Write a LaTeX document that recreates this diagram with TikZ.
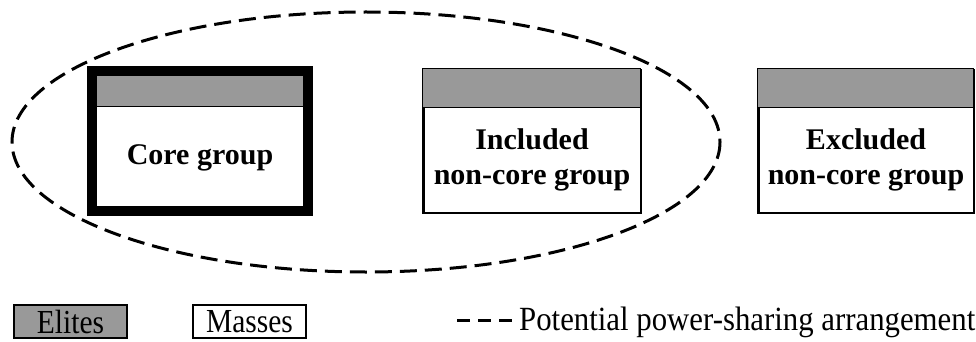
\documentclass[tikz,border=0pt]{standalone}
\usepackage{fontspec}
\usepackage{graphicx}
\setmainfont{Liberation Serif}
\definecolor{elitegray}{RGB}{153,153,153}
\tikzset{
  grp/.style={draw=black, fill=white, rectangle, inner sep=0pt},
  band/.style={draw=black, line width=1pt, fill=elitegray},
  grptext/.style={font=\fontsize{30}{35}\selectfont\bfseries, align=center, inner sep=0pt},
  legbox/.style={draw=black, line width=2.5pt, rectangle, inner sep=0pt, minimum width=113pt, minimum height=33pt},
  legtext/.style={font=\fontsize{30.8}{34}\selectfont, inner sep=0pt},
  share/.style={draw=black, line width=3pt, dash pattern=on 17pt off 8pt},
}
\begin{document}
\begin{tikzpicture}[x=1pt, y=-1pt]
\useasboundingbox (0,0) rectangle (976,342);
% potential power-sharing arrangement
\draw[share] (366,142) ellipse [x radius=354, y radius=130];
% core group
\node[grp, line width=10pt, minimum width=216pt, minimum height=140pt] (core) at (200,141) {};
\fill[elitegray] (97,76) rectangle (303,107);
\draw[line width=1pt] (97,107) -- (303,107);
\node[grptext] (coret) at (200,158) {Core group};
% included non-core group
\node[grp, line width=2.5pt, minimum width=217.5pt, minimum height=142.5pt] (incl) at (532,141.5) {};
\draw[band] (incl.north west) rectangle (640.75,108);
\node[grptext] (inclt) at (532,160) {Included\\non-core group};
% excluded non-core group
\node[grp, line width=2.5pt, minimum width=215.5pt, minimum height=142.5pt] (excl) at (866,141.5) {};
\draw[band] (excl.north west) rectangle (973.75,108);
\node[grptext] (exclt) at (866,160) {Excluded\\non-core group};
% legend
\node[legbox, fill=elitegray] (elites) at (70.5,321.5) {\scalebox{1}[1.14]{\fontsize{29.5}{34}\selectfont Elites}};
\node[legbox, fill=white] (masses) at (249.5,321.5) {\scalebox{1}[1.14]{\fontsize{29.5}{34}\selectfont Masses}};
\coordinate (ls) at (457,320);
\coordinate (le) at (512,320);
\draw[line width=3pt, dash pattern=on 13pt off 8pt] (ls) -- (le);
\node[legtext, anchor=west] (legt) at (519,322) {\scalebox{1}[1.1]{Potential power-sharing arrangement}};
\end{tikzpicture}
\end{document}
